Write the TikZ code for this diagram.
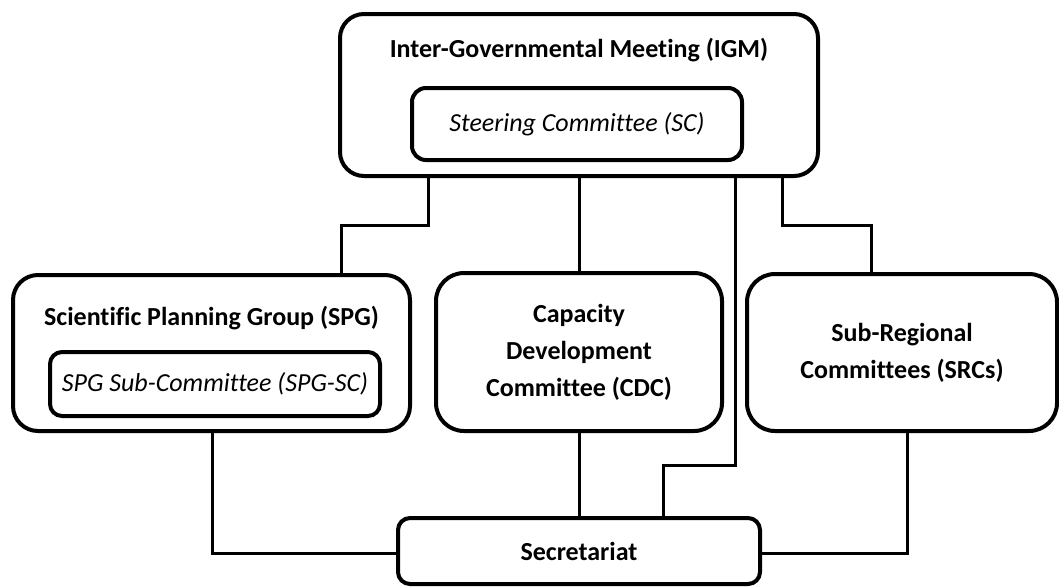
\documentclass[tikz,border=0pt]{standalone}
\usepackage{fontspec}
\setmainfont{Carlito}[Ligatures=NoCommon]
\begin{document}
\begin{tikzpicture}[x=1pt,y=-1pt,
  box/.style={draw, line width=4pt, rounded corners=#1, inner sep=0pt, align=center},
  box/.default=25pt,
  ttl/.style={font=\fontsize{26}{37}\selectfont\bfseries, align=center, inner sep=0pt},
  sub/.style={font=\fontsize{26}{30}\selectfont\itshape, inner sep=0pt},
  conn/.style={draw, line width=3pt, line join=miter}]
\useasboundingbox (0,0) rectangle (1059,587);
% boxes
\node[box=24pt, minimum width=478pt, minimum height=162pt] (igm) at (579,95) {};
\node[ttl] (igmt) at (579,50) {Inter-Governmental Meeting (IGM)};
\node[box=14pt, minimum width=330pt, minimum height=72pt, sub] (sc) at (577,124) {Steering Committee (SC)};

\node[box=25pt, minimum width=397pt, minimum height=156pt] (spg) at (211.5,353) {};
\node[ttl] (spgt) at (211.5,318) {Scientific Planning Group (SPG)};
\node[box=12pt, minimum width=330pt, minimum height=64pt, sub] (spgsc) at (215,384) {SPG Sub-Committee (SPG-SC)};

\node[box=28pt, minimum width=286pt, minimum height=158pt, ttl] (cdc) at (579,352) {Capacity\\Development\\Committee (CDC)};
\node[box=28pt, minimum width=310pt, minimum height=157pt, ttl] (src) at (902,352.5) {Sub-Regional\\Committees (SRCs)};
\node[box=12pt, minimum width=362pt, minimum height=66pt, ttl] (sec) at (579,551) {Secretariat};

% bend points
\coordinate (a1) at (428,225);
\coordinate (a2) at (341,225);
\coordinate (b1) at (735,465);
\coordinate (b2) at (663,465);
\coordinate (c1) at (782,225);
\coordinate (c2) at (871,225);
\coordinate (d1) at (212,553);
\coordinate (e1) at (907,553);

% connectors
\draw[conn] (igm.south -| a1) -- (a1) -- (a2) -- (spg.north -| a2);
\draw[conn] (igm.south -| cdc.north) -- (cdc.north);
\draw[conn] (igm.south -| b1) -- (b1) -- (b2) -- (sec.north -| b2);
\draw[conn] (igm.south -| c1) -- (c1) -- (c2) -- (src.north -| c2);
\draw[conn] (spg.south -| d1) -- (d1) -- (sec.west |- d1);
\draw[conn] (cdc.south) -- (sec.north);
\draw[conn] (src.south -| e1) -- (e1) -- (sec.east |- e1);
\end{tikzpicture}
\end{document}
